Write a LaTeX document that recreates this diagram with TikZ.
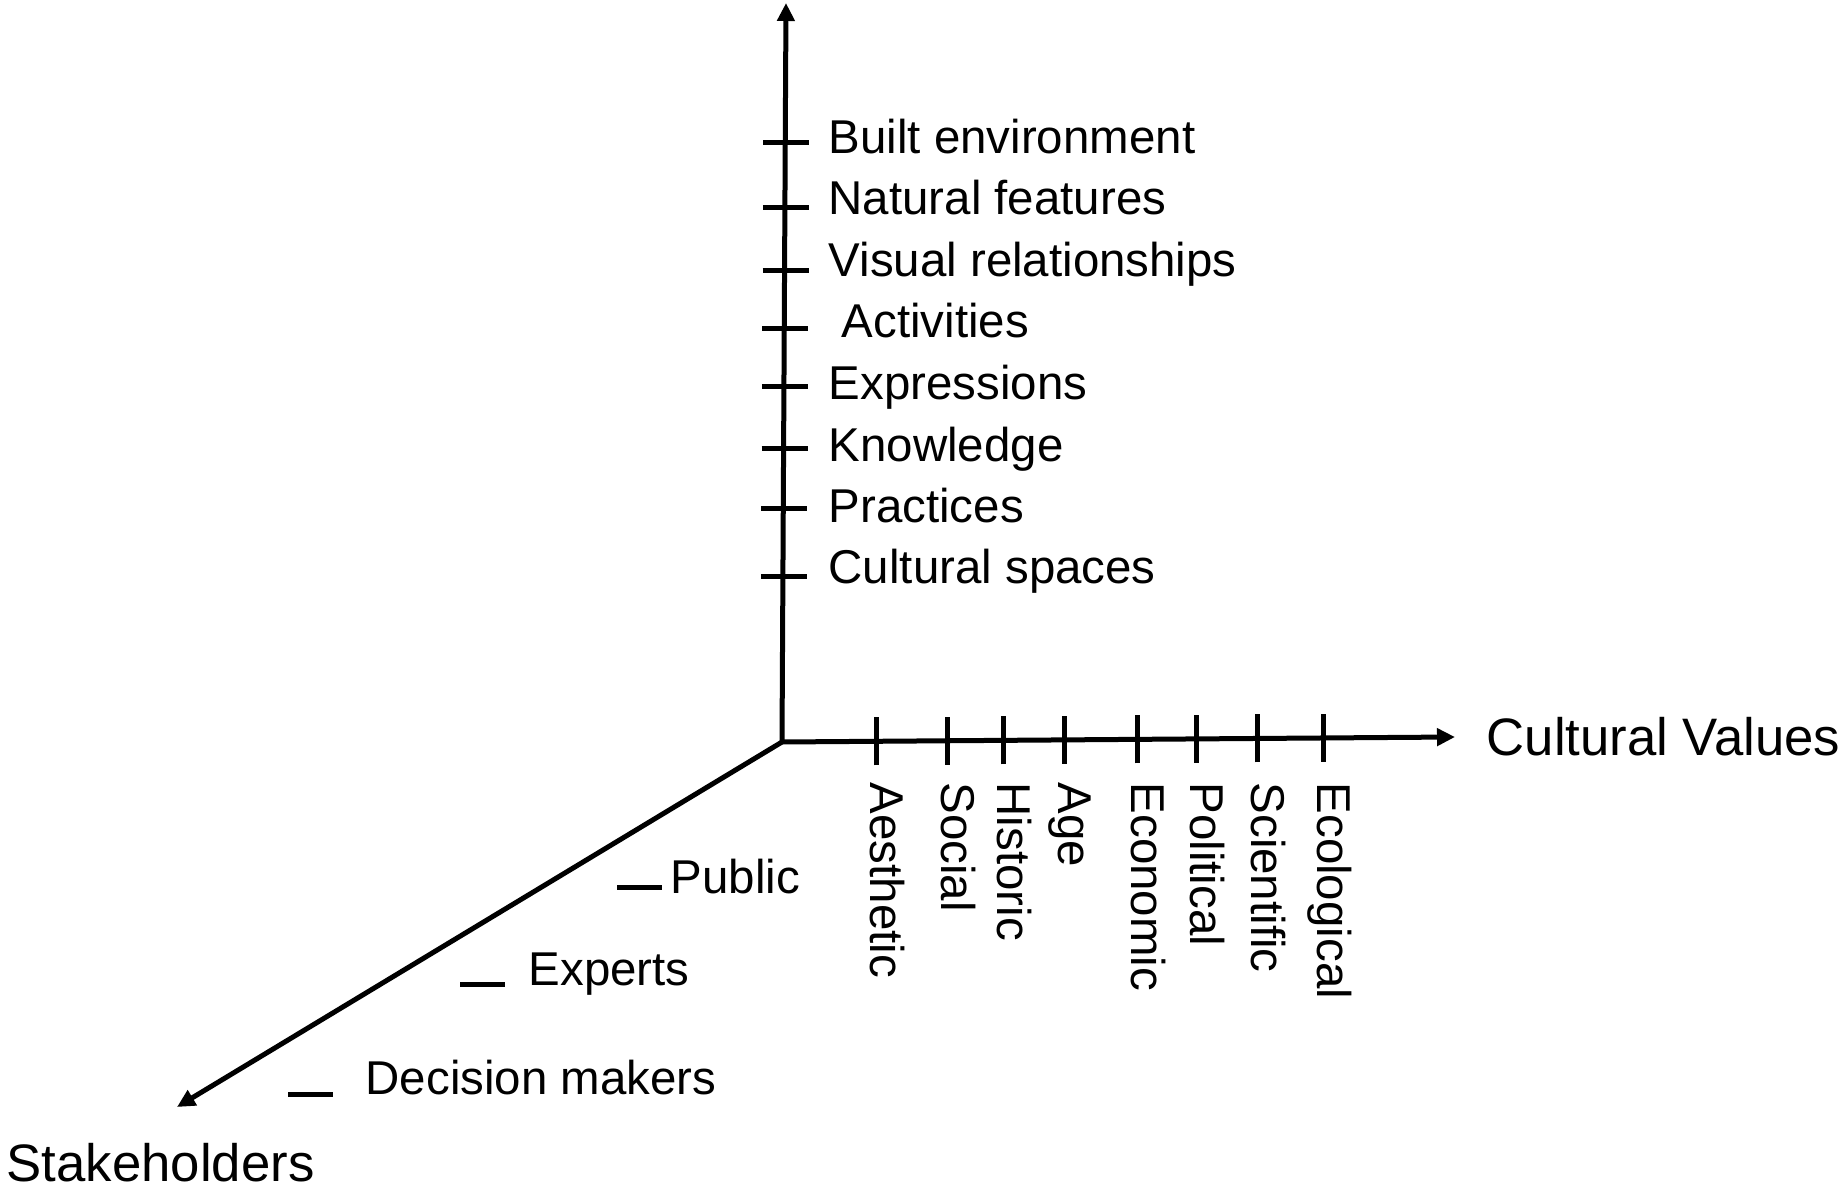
\documentclass[tikz,border=0pt]{standalone}
\usepackage{fontspec}
\setmainfont{Liberation Sans}
\usetikzlibrary{arrows.meta,calc}
\tikzstyle{axisline} = [line width=0.05cm, -{Triangle[length=0.18cm,width=0.17cm]}]
\tikzstyle{tickline} = [line width=0.05cm]
\tikzstyle{ticktext} = [inner sep=0pt, anchor=base west, font=\fontsize{13.5}{16}\selectfont]
\tikzstyle{valuetext} = [ticktext, rotate=-90]
\tikzstyle{axistitle} = [inner sep=0pt, anchor=base west, font=\fontsize{15}{18}\selectfont]
% tick on the vertical axis: name, tick y, baseline y, text
\newcommand{\feature}[4]{%
  \coordinate (ft#1) at ($(O)!(0,#2)!(Y)$);
  \draw[tickline] ([xshift=-0.22cm]ft#1) -- ([xshift=0.24cm]ft#1);
  \node (f#1) [ticktext] at (8.28,#3) {#4};}
% tick on the horizontal axis: name, tick x, text
\newcommand{\cvalue}[3]{%
  \coordinate (vt#1) at ($(O)!(#2,0)!(X)$);
  \draw[tickline] ([yshift=-0.24cm]vt#1) -- ([yshift=0.24cm]vt#1);
  \node (v#1) [valuetext] at ($(vt#1 |- 0,4.07)+(-0.06,0)$) {#3};}
% dash along the diagonal axis: name, dash x, dash y, text x, baseline y, text
\newcommand{\stakeholder}[6]{%
  \coordinate (st#1) at (#2,#3);
  \draw[tickline] (st#1) -- ++(0.45,0);
  \node (s#1) [ticktext] at (#4,#5) {#6};}

\begin{document}
\begin{tikzpicture}
\useasboundingbox (0,0) rectangle (18.45,11.89);
% Axes
\coordinate (O) at (7.82,4.47);
\coordinate (Y) at (7.86,11.86);
\coordinate (X) at (14.55,4.52);
\coordinate (Z) at (1.77,0.82);
\draw[axisline] (O) -- (Y);
\draw[axisline] (O) -- (X);
\draw[axisline] (O) -- (Z);

% Axis titles
\node (cv) [axistitle] at (14.86,4.33) {Cultural Values};
\node (sh) [axistitle] at (0.06,0.08) {Stakeholders};

% Vertical axis
\feature{1}{10.51}{10.355}{Built environment}
\feature{2}{9.86}{9.743}{Natural features}
\feature{3}{9.23}{9.12}{Visual relationships}
\feature{4}{8.65}{8.51}{\ Activities}
\feature{5}{8.07}{7.896}{Expressions}
\feature{6}{7.45}{7.272}{Knowledge}
\feature{7}{6.85}{6.66}{Practices}
\feature{8}{6.17}{6.05}{Cultural spaces}

% Horizontal axis
\cvalue{1}{8.80}{Aesthetic}
\cvalue{2}{9.506}{Social}
\cvalue{3}{10.071}{Historic}
\cvalue{4}{10.683}{Age}
\cvalue{5}{11.413}{Economic}
\cvalue{6}{12.001}{Political}
\cvalue{7}{12.613}{Scientific}
\cvalue{8}{13.272}{Ecological}

% Diagonal axis
\stakeholder{1}{6.17}{3.02}{6.70}{2.96}{Public}
\stakeholder{2}{4.60}{2.05}{5.28}{2.04}{Experts}
\stakeholder{3}{2.88}{0.95}{3.65}{0.95}{Decision makers}
\end{tikzpicture}
\end{document}
